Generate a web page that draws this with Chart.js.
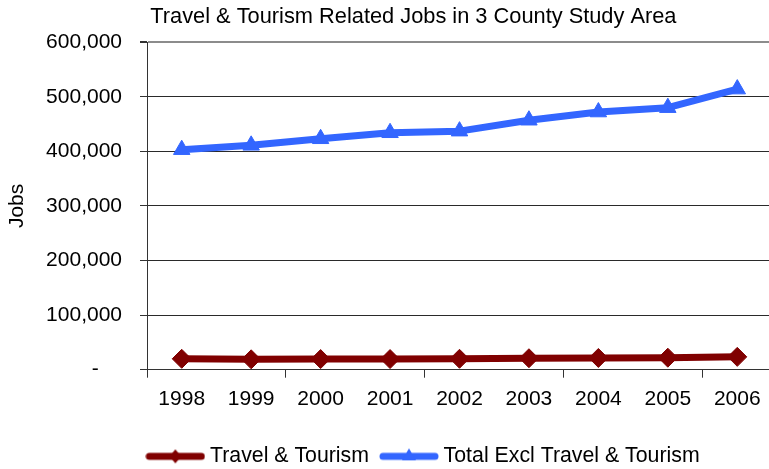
<!DOCTYPE html>
<html>
<head>
<meta charset="utf-8">
<script src="https://cdn.jsdelivr.net/npm/chart.js@4/dist/chart.umd.min.js"></script>
<style>
  html, body { margin: 0; padding: 0; background: #fff; overflow: hidden; }
  #wrap { width: 856px; height: 477px; }
</style>
</head>
<body>
<div id="wrap"><canvas id="jobs-lineChart"></canvas></div>
<script>
const years = ["1998", "1999", "2000", "2001", "2002", "2003", "2004", "2005", "2006"];
const travelTourism = [20000, 19000, 19500, 19500, 20000, 21000, 21500, 22000, 23500];
const totalExcl = [403000, 411000, 423000, 434000, 437000, 457000, 472000, 480000, 514000];
const yTicks = [0, 100000, 200000, 300000, 400000, 500000, 600000];

const red = "#800000";
const blue = "#3366FF";

// little line + marker pictures for the legend
function legendIcon(color, shape) {
    const c = document.createElement("canvas");
    c.width = 60;
    c.height = 18;
    const g = c.getContext("2d");
    g.strokeStyle = color;
    g.fillStyle = color;
    g.lineWidth = 7;
    g.lineCap = "round";
    g.beginPath();
    g.moveTo(4, 9);
    g.lineTo(56, 9);
    g.stroke();
    g.beginPath();
    if (shape === "diamond") {
        g.moveTo(30, 2); g.lineTo(36, 9); g.lineTo(30, 16); g.lineTo(24, 9);
    } else {
        g.moveTo(30, 1); g.lineTo(37, 13); g.lineTo(23, 13);
    }
    g.closePath();
    g.fill();
    return c;
}
const legendIcons = [legendIcon(red, "diamond"), legendIcon(blue, "triangle")];

// title and legend sit off-centre in the original, push them right
const shiftBoxes = {
    id: "shiftBoxes",
    afterLayout(chart) {
        chart.titleBlock.left += 79;
        chart.legend.left += 79;
    }
};

Chart.defaults.font.family = "'Liberation Sans', Arial, sans-serif";
Chart.defaults.color = "#000";

const jobsChart = new Chart(document.getElementById("jobs-lineChart"), {
    type: "line",
    data: {
        labels: years,
        datasets: [{
            label: "Travel & Tourism",
            data: travelTourism,
            borderColor: red, backgroundColor: red,
            borderWidth: 7, borderJoinStyle: "round", borderCapStyle: "round",
            pointStyle: "rectRot", pointRadius: 9.5,
            pointBackgroundColor: red, pointBorderColor: red, pointBorderWidth: 1
        }, {
            label: "Total Excl Travel & Tourism",
            data: totalExcl,
            borderColor: blue, backgroundColor: blue,
            borderWidth: 7, borderJoinStyle: "round", borderCapStyle: "round",
            pointStyle: "triangle", pointRadius: 9.5,
            pointBackgroundColor: blue, pointBorderColor: blue, pointBorderWidth: 1
        }]
    },
    plugins: [shiftBoxes],
    options: {
        responsive: true,
        maintainAspectRatio: false,
        animation: false,
        layout: { padding: { left: 0, right: 84, top: 0, bottom: 0 } },
        plugins: {
            title: {
                display: true,
                text: "Travel & Tourism Related Jobs in 3 County Study Area    ",
                font: { size: 21.8, weight: "normal" },
                color: "#000",
                padding: { top: 4, bottom: 12 }
            },
            legend: {
                position: "bottom",
                labels: {
                    font: { size: 21.3 },
                    color: "#000",
                    usePointStyle: true,
                    pointStyleWidth: 48,
                    padding: 16,
                    generateLabels: chart => Chart.defaults.plugins.legend.labels.generateLabels(chart)
                        .map((item, i) => ({ ...item, pointStyle: legendIcons[i] }))
                }
            },
            tooltip: { enabled: false }
        },
        scales: {
            x: {
                offset: true,
                grid: {
                    offset: true,
                    drawOnChartArea: false,
                    tickLength: 8,
                    tickColor: ctx => ctx.index % 2 === 0 ? "#333" : "rgba(0,0,0,0)"
                },
                border: { color: "#333", width: 1 },
                ticks: { font: { size: 21 }, color: "#000", padding: 9, maxRotation: 0, autoSkip: false },
                afterFit: s => { s.height = 60; }
            },
            y: {
                min: 0,
                max: 600000,
                afterBuildTicks: s => { s.ticks = yTicks.map(v => ({ value: v })); },
                grid: {
                    color: ctx => ctx.tick && ctx.tick.value === 600000 ? "#8c8c8c" : "#2a2a2a",
                    lineWidth: ctx => ctx.tick && ctx.tick.value === 600000 ? 2 : 1,
                    tickColor: "#333",
                    tickLength: 7
                },
                border: { color: "#333", width: 1 },
                ticks: {
                    font: { size: 21 },
                    color: "#000",
                    padding: 18,
                    callback: v => v === 0 ? "-    " : v.toLocaleString("en-US")
                },
                title: {
                    display: true,
                    text: "Jobs",
                    font: { size: 21 },
                    color: "#000",
                    padding: { top: 5, bottom: 0 }
                },
                afterFit: s => { s.width = 147; }
            }
        }
    }
});
</script>
</body>
</html>
